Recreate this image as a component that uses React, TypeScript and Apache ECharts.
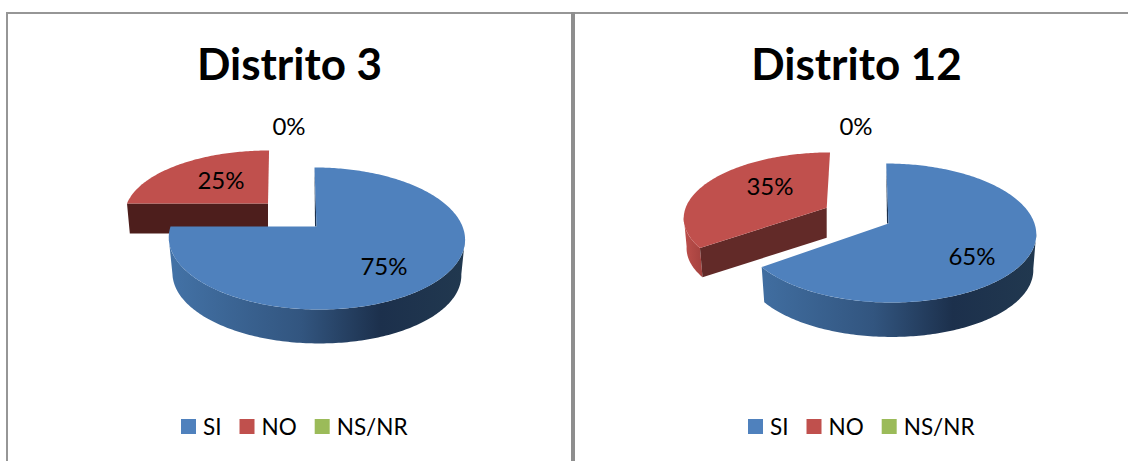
import React, { useEffect, useRef } from "react";
import * as echarts from "echarts";

const districts = ["Distrito 3", "Distrito 12"];
const answers = ["SI", "NO", "NS/NR"];
const valuesSI = [75, 65];
const valuesNO = [25, 35];
const valuesNSNR = [0, 0];
const answerValues = [valuesSI, valuesNO, valuesNSNR];
const topColors = ["#4f81bd", "#c0504d", "#9bbb59"];

const FONT = "Lato, Carlito, Calibri, sans-serif";

type Disk = { cx: number; cy: number; a: number; b: number; p: number; sk: number; depth: number; shrink: number; label: [number, number]; cut?: string; sliver?: number };

// Placement of each exploded slice in each panel: [SI, NO, NS/NR]
const panelLayout: Disk[][] = [
  [
    { cx: 316.5, cy: 226.5, a: 146, b: 69, p: 0.169, sk: 0.034, depth: 36, shrink: 0.975, label: [384, 265], sliver: 1.5 },
    { cx: 268, cy: 203.5, a: 141, b: 62, p: 0.169, sk: -0.02, depth: 30, shrink: 0.98, label: [221, 179], cut: "#4d1e1c" },
    { cx: 289, cy: 125, a: 0, b: 0, p: 0, sk: 0, depth: 0, shrink: 1, label: [289, 125] },
  ],
  [
    { cx: 888.5, cy: 223.5, a: 146, b: 68.2, p: 0.137, sk: 0.038, depth: 36, shrink: 0.98, label: [972, 255], sliver: 1.5 },
    { cx: 826.7, cy: 207.7, a: 141, b: 63, p: 0.14, sk: -0.06, depth: 30, shrink: 0.98, label: [770, 185], cut: "#622a28" },
    { cx: 856, cy: 125, a: 0, b: 0, p: 0, sk: 0, depth: 0, shrink: 1, label: [856, 125] },
  ],
];

function project(d: Disk, theta: number, r: number, bottom: boolean): number[] {
  const t = (theta * Math.PI) / 180;
  const u = Math.sin(t) * r;
  const v = Math.cos(t) * r;
  const w = 1 + d.p * v;
  const s = bottom ? d.shrink : 1;
  const yy = (d.b * v) / w;
  const x = d.cx + s * ((d.a * u) / w - d.sk * yy);
  const y = d.cy + (bottom ? d.depth : 0) - s * yy;
  return [x, y];
}

function arc(d: Disk, from: number, to: number, bottom: boolean): number[][] {
  const pts: number[][] = [];
  const n = Math.max(2, Math.ceil(Math.abs(to - from)));
  for (let i = 0; i <= n; i++) pts.push(project(d, from + ((to - from) * i) / n, 1, bottom));
  return pts;
}

function wallFill(answer: number, d: Disk) {
  const stops =
    answer === 0
      ? [
          { offset: 0, color: "#4372a6" },
          { offset: 0.45, color: "#32557f" },
          { offset: 0.72, color: "#1c304c" },
          { offset: 1, color: "#21384f" },
        ]
      : [
          { offset: 0, color: "#bb4e4a" },
          { offset: 0.07, color: "#a03f3c" },
          { offset: 1, color: "#7d2f2c" },
        ];
  return new echarts.graphic.LinearGradient(d.cx - d.a, 0, d.cx + d.a, 0, stops, true);
}

function makeRenderItem(answer: number) {
  return (_params: any, api: any) => {
    const panel = api.value(0);
    const value = api.value(1);
    const d = panelLayout[panel][answer];
    const total = answerValues.reduce((acc, list) => acc + list[panel], 0);
    const before = answerValues.slice(0, answer).reduce((acc, list) => acc + list[panel], 0);
    const start = (before / total) * 360;
    const end = ((before + value) / total) * 360;
    const children: any[] = [];
    if (value > 0) {
      // the side wall is only seen between the two outermost points of the rim
      const silhouette = (Math.acos(-d.p) * 180) / Math.PI;
      const from = Math.max(start, silhouette);
      const to = Math.min(end, 360 - silhouette);
      if (to > from) {
        children.push({
          type: "polygon",
          shape: { points: [...arc(d, from, to, false), ...arc(d, from, to, true).reverse()] },
          style: { fill: wallFill(answer, d) },
        });
      }
      if (d.cut) {
        children.push({
          type: "polygon",
          shape: {
            points: [project(d, start, 0, false), project(d, start, 1, false), project(d, start, 1, true), project(d, start, 0, true)],
          },
          style: { fill: d.cut },
        });
      }
      if (d.sliver) {
        const a = project(d, start, 1, false);
        const b = project(d, start, 0, false);
        children.push({
          type: "polygon",
          shape: { points: [a, b, [b[0] - d.sliver, b[1]]] },
          style: { fill: "#1c304c" },
        });
      }
      children.push({
        type: "polygon",
        shape: { points: [project(d, start, 0, false), ...arc(d, start, end, false)] },
        style: { fill: topColors[answer] },
      });
    }
    children.push({
      type: "text",
      style: {
        text: `${value}%`,
        x: d.label[0],
        y: d.label[1],
        fontSize: 24,
        fontFamily: FONT,
        fill: "#000",
        align: "center",
        verticalAlign: "middle",
      },
    });
    return { type: "group", children };
  };
}

export default function App() {
  const ref = useRef<HTMLDivElement>(null);
  useEffect(() => {
    document.body.style.margin = "0";
    const chart = echarts.init(ref.current!, null, { renderer: "svg" });
    const legendBase = {
      top: 410,
      itemWidth: 15,
      itemHeight: 15,
      itemGap: 18,
      icon: "rect",
      selectedMode: false,
      data: answers,
      textStyle: { fontSize: 22.5, fontFamily: FONT, color: "#000", padding: [0, 0, 0, 2] },
    };
    const titleStyle = { fontSize: 44, fontWeight: "bold", fontFamily: FONT, color: "#000" };
    chart.setOption({
      animation: false,
      backgroundColor: "#fff",
      title: [
        { text: districts[0], left: 284.5, top: 36, textAlign: "center", textStyle: titleStyle },
        { text: districts[1], left: 851.5, top: 36, textAlign: "center", textStyle: titleStyle },
      ],
      legend: [
        { ...legendBase, left: 176 },
        { ...legendBase, left: 743 },
      ],
      graphic: [
        { type: "rect", shape: { x: 6, y: 12, width: 1122, height: 2 }, style: { fill: "#969696" } },
        { type: "rect", shape: { x: 6, y: 12, width: 2, height: 449 }, style: { fill: "#969696" } },
        { type: "rect", shape: { x: 571, y: 12, width: 4, height: 449 }, style: { fill: "#8e8e8e" } },
      ],
      series: answers.map((name, i) => ({
        type: "custom",
        name,
        coordinateSystem: "none",
        z: [3, 2, 4][i],
        itemStyle: { color: topColors[i] },
        renderItem: makeRenderItem(i),
        data: answerValues[i].map((v, panel) => [panel, v]),
      })),
    });
    return () => chart.dispose();
  }, []);
  return <div ref={ref} style={{ width: 1128, height: 461, overflow: "hidden" }} />;
}
